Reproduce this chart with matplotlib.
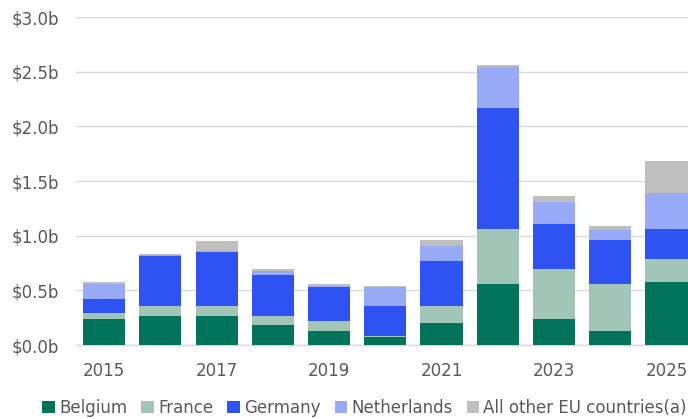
import matplotlib

matplotlib.use("Agg")
import matplotlib.pyplot as plt
import numpy as np
from matplotlib.patches import Patch

plt.rcParams["font.family"] = ["DejaVu Sans"]

# --- data (values in $ billions) ------------------------------------------
years = [2015, 2016, 2017, 2018, 2019, 2020, 2021, 2022, 2023, 2024, 2025]
belgium = [0.24, 0.265, 0.265, 0.186, 0.13, 0.076, 0.198, 0.558, 0.24, 0.128, 0.573]
france = [0.05, 0.095, 0.095, 0.079, 0.087, 0.005, 0.162, 0.506, 0.458, 0.43, 0.216]
germany = [0.13, 0.455, 0.494, 0.375, 0.314, 0.276, 0.408, 1.107, 0.412, 0.403, 0.275]
netherlands = [0.14, 0.01, 0.004, 0.04, 0.005, 0.176, 0.138, 0.372, 0.197, 0.094, 0.322]
other_eu = [0.015, 0.005, 0.092, 0.015, 0.025, 0.005, 0.054, 0.016, 0.055, 0.037, 0.297]

series = [
    ("Belgium", belgium, "#00735A"),
    ("France", france, "#A1C6B7"),
    ("Germany", germany, "#2F52F2"),
    ("Netherlands", netherlands, "#97A9F7"),
    ("All other EU countries(a)", other_eu, "#BFBFBF"),
]
yticks = [0.0, 0.5, 1.0, 1.5, 2.0, 2.5, 3.0]

# --- figure ---------------------------------------------------------------
# the source chart is cropped on the right, so the axes run past the edge
fig = plt.figure(figsize=(6.88, 4.19), dpi=100)
ax = fig.add_axes([76 / 688, 74 / 419, 618.6 / 688, 328 / 419])

x = np.arange(len(years))
bottom = np.zeros(len(years))
for name, vals, color in series:
    ax.bar(x, vals, width=0.75, bottom=bottom, color=color, label=name, zorder=3)
    bottom += np.array(vals)

ax.set_xlim(-0.5, len(years) - 0.5)
ax.set_ylim(0, 3.0)
ax.set_yticks(yticks)
ax.set_yticklabels([f"${v:.1f}b" for v in yticks])
ax.set_xticks(x[::2])
ax.set_xticklabels([str(y) for y in years[::2]])

ax.grid(axis="y", color="#D9D9D9", lw=1.0, zorder=0)
for side in ("top", "right", "left"):
    ax.spines[side].set_visible(False)
ax.spines["bottom"].set_color("#D9D9D9")
ax.spines["bottom"].set_linewidth(1.0)
ax.tick_params(length=0, labelsize=12, labelcolor="#595959")
ax.tick_params(axis="y", pad=12)
ax.tick_params(axis="x", pad=12)

handles = [Patch(facecolor=c, label=n) for n, _, c in series]
fig.legend(
    handles=handles, loc="center", ncol=len(series),
    bbox_to_anchor=(0.53, 0.026), frameon=False, fontsize=12,
    handlelength=0.75, handleheight=0.75, handletextpad=0.25, columnspacing=0.85,
    labelcolor="#595959", borderpad=0, borderaxespad=0,
)

fig.savefig("out.png", dpi=100)
plt.close(fig)
